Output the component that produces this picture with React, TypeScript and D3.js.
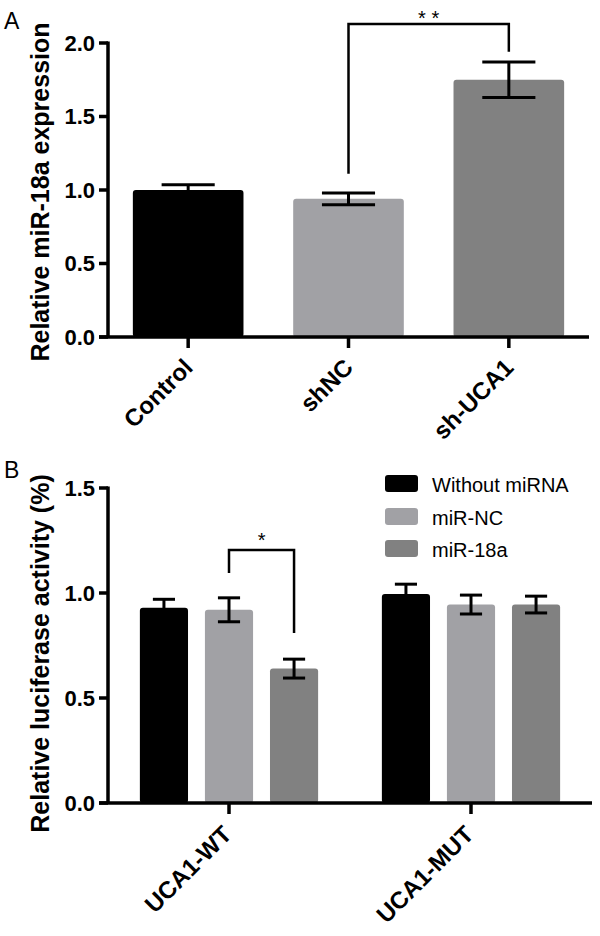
import React from "react";
import * as d3 from "d3";

// ---------- Panel A data ----------
const catsA = ["Control", "shNC", "sh-UCA1"];
const meansA = [1.0, 0.94, 1.75];
const semA = [0.035, 0.04, 0.12];
const colorsA = ["#000000", "#a1a1a5", "#818181"];
const ticksA = [0, 0.5, 1.0, 1.5, 2.0];
const sigA = { from: 1, to: 2, top: 2.13, leftEnd: 1.11, rightEnd: 1.94, label: "* *" };

// ---------- Panel B data ----------
const groupsB = ["UCA1-WT", "UCA1-MUT"];
const seriesB = ["Without miRNA", "miR-NC", "miR-18a"];
const withoutMiRNA = [0.93, 0.995];
const withoutSem = [0.04, 0.047];
const miRNC = [0.92, 0.945];
const miRNCSem = [0.057, 0.045];
const miR18a = [0.64, 0.945];
const miR18aSem = [0.045, 0.04];
const colorsB = ["#000000", "#a1a1a5", "#818181"];
const ticksB = [0, 0.5, 1.0, 1.5];
const sigB = { group: 0, from: 1, to: 2, top: 1.205, leftEnd: 1.095, rightEnd: 0.81, label: "*" };

const FONT = "'Liberation Sans', Arial, Helvetica, sans-serif";

export default function App() {
  // ----- Panel A scales -----
  const axA = { left: 108, right: 589, y0: 337, y1: 43 };
  const xA = d3.scaleBand<string>().domain(catsA).range([axA.left, axA.right]).paddingInner(0.31).paddingOuter(0.155);
  const yA = d3.scaleLinear().domain([0, 2]).range([axA.y0, axA.y1]);
  const bwA = xA.bandwidth();

  // ----- Panel B scales -----
  const axB = { left: 108, right: 592, y0: 803, y1: 488 };
  const x0B = d3.scaleBand<string>().domain(groupsB).range([axB.left, axB.right]).padding(0);
  const x1B = d3.scaleBand<string>().domain(seriesB).range([0, x0B.bandwidth()]).paddingInner(0.26).paddingOuter(0.49);
  const yB = d3.scaleLinear().domain([0, 1.5]).range([axB.y0, axB.y1]);
  const bwB = x1B.bandwidth();
  const valsB = [withoutMiRNA, miRNC, miR18a];
  const semsB = [withoutSem, miRNCSem, miR18aSem];

  const fmt = d3.format(".1f");
  const axisW = 3.5;
  const errW = 3;

  const errorBar = (cx: number, top: number, bot: number, cap: number, key: string) => (
    <g key={key} stroke="#000" strokeWidth={errW} fill="none">
      <line x1={cx} x2={cx} y1={top} y2={bot} />
      <line x1={cx - cap / 2} x2={cx + cap / 2} y1={top} y2={top} />
      <line x1={cx - cap / 2} x2={cx + cap / 2} y1={bot} y2={bot} />
    </g>
  );

  const cA = (i: number) => (xA(catsA[i]) as number) + bwA / 2;
  const cB = (g: number, s: number) => (x0B(groupsB[g]) as number) + (x1B(seriesB[s]) as number) + bwB / 2;

  return (
    <svg width={600} height={936} style={{ position: "absolute", left: 0, top: 0, background: "#fff" }} fontFamily={FONT}>
      {/* ================= Panel A ================= */}
      <text x={4} y={29} fontSize={23} fill="#000">A</text>
      <text transform={`translate(49,${(axA.y0 + 43) / 2 + 2}) rotate(-90)`} textAnchor="middle" fontSize={25} fontWeight="bold">
        Relative miR-18a expression
      </text>
      {catsA.map((c, i) => (
        <rect key={c} x={xA(c)} y={yA(meansA[i])} width={bwA} height={axA.y0 - yA(meansA[i])} fill={colorsA[i]} rx={3} />
      ))}
      {catsA.map((c, i) => errorBar(cA(i), yA(meansA[i] + semA[i]), yA(meansA[i] - semA[i]), bwA * 0.48, "ea" + i))}
      {/* y axis */}
      <line x1={axA.left} x2={axA.left} y1={yA(2) - 1.5} y2={axA.y0} stroke="#000" strokeWidth={axisW} />
      {ticksA.map((t) => (
        <g key={t}>
          <line x1={axA.left - 9} x2={axA.left} y1={yA(t)} y2={yA(t)} stroke="#000" strokeWidth={axisW} />
          <text x={95} y={yA(t)} dy="0.36em" textAnchor="end" fontSize={22} fontWeight="bold">{fmt(t)}</text>
        </g>
      ))}
      {/* x axis */}
      <line x1={axA.left - 9} x2={axA.right} y1={axA.y0} y2={axA.y0} stroke="#000" strokeWidth={axisW} />
      {catsA.map((c, i) => (
        <g key={c}>
          <line x1={cA(i)} x2={cA(i)} y1={axA.y0} y2={axA.y0 + 11} stroke="#000" strokeWidth={axisW} />
          <text transform={`translate(${cA(i) + 6},${axA.y0 + 32}) rotate(-45)`} textAnchor="end" fontSize={24} fontWeight="bold">{c}</text>
        </g>
      ))}
      {/* significance A */}
      <path
        d={`M${cA(sigA.from)},${yA(sigA.leftEnd)}V${yA(sigA.top)}H${cA(sigA.to)}V${yA(sigA.rightEnd)}`}
        fill="none" stroke="#000" strokeWidth={2.5}
      />
      <text x={(cA(sigA.from) + cA(sigA.to)) / 2} y={yA(sigA.top) + 1} textAnchor="middle" fontSize={20}>{sigA.label}</text>

      {/* ================= Panel B ================= */}
      <text x={4} y={478} fontSize={23} fill="#000">B</text>
      <text transform={`translate(49,${(axB.y0 + 488) / 2 + 8}) rotate(-90)`} textAnchor="middle" fontSize={25} fontWeight="bold">
        Relative luciferase activity (%)
      </text>
      {groupsB.map((g, gi) =>
        seriesB.map((s, si) => (
          <rect key={g + s} x={cB(gi, si) - bwB / 2} y={yB(valsB[si][gi])} width={bwB} height={axB.y0 - yB(valsB[si][gi])} fill={colorsB[si]} rx={3} />
        ))
      )}
      {groupsB.map((g, gi) =>
        seriesB.map((s, si) =>
          errorBar(cB(gi, si), yB(valsB[si][gi] + semsB[si][gi]), yB(valsB[si][gi] - semsB[si][gi]), bwB * 0.46, "eb" + gi + si)
        )
      )}
      <line x1={axB.left} x2={axB.left} y1={yB(1.5) - 1.5} y2={axB.y0} stroke="#000" strokeWidth={axisW} />
      {ticksB.map((t) => (
        <g key={t}>
          <line x1={axB.left - 9} x2={axB.left} y1={yB(t)} y2={yB(t)} stroke="#000" strokeWidth={axisW} />
          <text x={95} y={yB(t)} dy="0.36em" textAnchor="end" fontSize={22} fontWeight="bold">{fmt(t)}</text>
        </g>
      ))}
      <line x1={axB.left - 9} x2={axB.right} y1={axB.y0} y2={axB.y0} stroke="#000" strokeWidth={axisW} />
      {groupsB.map((g, gi) => {
        const cx = (x0B(g) as number) + x0B.bandwidth() / 2;
        return (
          <g key={g}>
            <line x1={cx} x2={cx} y1={axB.y0} y2={axB.y0 + 11} stroke="#000" strokeWidth={axisW} />
            <text transform={`translate(${cx + 4},${axB.y0 + 33}) rotate(-45)`} textAnchor="end" fontSize={24} fontWeight="bold">{g}</text>
          </g>
        );
      })}
      {/* significance B */}
      <path
        d={`M${cB(sigB.group, sigB.from)},${yB(sigB.leftEnd)}V${yB(sigB.top)}H${cB(sigB.group, sigB.to)}V${yB(sigB.rightEnd)}`}
        fill="none" stroke="#000" strokeWidth={2.5}
      />
      <text x={(cB(sigB.group, sigB.from) + cB(sigB.group, sigB.to)) / 2} y={yB(sigB.top) - 3} textAnchor="middle" fontSize={20}>{sigB.label}</text>

      {/* legend */}
      {seriesB.map((s, i) => {
        const ys = [475, 508, 540];
        return (
          <g key={s}>
            <rect x={385} y={ys[i]} width={33} height={17} rx={3} fill={colorsB[i]} />
            <text x={432} y={ys[i] + 17} fontSize={20}>{s}</text>
          </g>
        );
      })}
    </svg>
  );
}
